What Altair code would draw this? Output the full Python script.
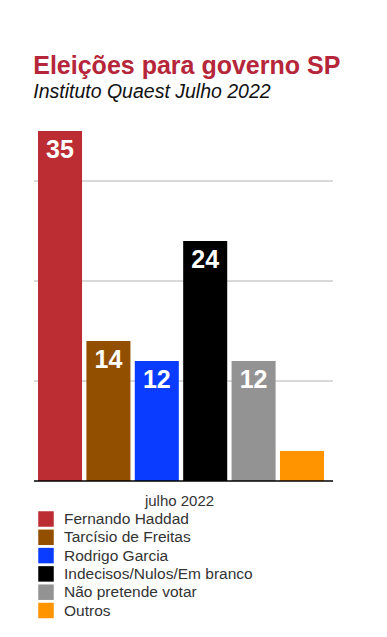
import altair as alt
import pandas as pd

candidatos = ["Fernando Haddad", "Tarcísio de Freitas", "Rodrigo Garcia",
              "Indecisos/Nulos/Em branco", "Não pretende votar", "Outros"]
valores = [35, 14, 12, 24, 12, 3]
rotulos = ["35", "14", "12", "24", "12", ""]
cores = ["#bb2c33", "#934f00", "#0a3cff", "#000000", "#939393", "#ff9400"]
grade = [10, 20, 30]

df = pd.DataFrame({"candidato": candidatos, "valor": valores, "rotulo": rotulos})

FONT = "Liberation Sans"

xscale = alt.Scale(range=[4, 290], paddingInner=0.09, paddingOuter=0)
yscale = alt.Scale(domain=[0, 35], nice=False)

grid = alt.Chart(pd.DataFrame({"g": grade})).mark_rule(
    color="#b3b3b3", strokeWidth=1
).encode(y=alt.Y("g:Q", scale=yscale, axis=None))

bars = alt.Chart(df).mark_bar().encode(
    x=alt.X("candidato:N", sort=candidatos, scale=xscale,
            axis=alt.Axis(title="julho 2022", labels=False, ticks=False, domain=False,
                          grid=False, titleX=145, titlePadding=12,
                          titleFont=FONT, titleFontSize=15, titleFontWeight="normal",
                          titleColor="#333")),
    y=alt.Y("valor:Q", scale=yscale, axis=None),
    color=alt.Color("candidato:N", sort=candidatos,
                    scale=alt.Scale(domain=candidatos, range=cores),
                    legend=alt.Legend(title=None, orient="none", legendX=4, legendY=380,
                                      direction="vertical", symbolType="square",
                                      symbolSize=240, symbolStrokeWidth=0,
                                      symbolOpacity=1, labelFont=FONT,
                                      labelFontSize=15.5, labelColor="#333",
                                      labelOffset=10, labelLimit=0, rowPadding=1.3,
                                      padding=0)),
)

labels = alt.Chart(df).transform_filter("datum.rotulo != ''").mark_text(
    color="white", font=FONT, fontWeight="bold", fontSize=25,
    baseline="alphabetic", align="center", dy=27
).encode(
    x=alt.X("candidato:N", sort=candidatos, scale=xscale),
    y=alt.Y("valor:Q", scale=yscale),
    text="rotulo:N",
)

base_line = alt.Chart(pd.DataFrame({"zero": [0]})).mark_rule(
    color="black", strokeWidth=1.5
).encode(y=alt.Y("zero:Q", scale=yscale))

chart = alt.layer(grid, bars, labels, base_line).properties(
    width=299, height=350,
    title=alt.TitleParams(
        text="Eleições para governo SP",
        subtitle="Instituto Quaest Julho 2022",
        anchor="start", font=FONT, fontSize=25, fontWeight="bold", color="#b5263a",
        subtitleFont=FONT, subtitleFontSize=19.5, subtitleFontStyle="italic",
        subtitleColor="#111", subtitlePadding=4.5, offset=29.5),
    autosize=alt.AutoSizeParams(type="none"),
    padding={"left": 26, "top": 123, "right": 40, "bottom": 150},
).configure_view(strokeWidth=0)

chart.save("out.html", embed_options={"renderer": "svg", "actions": False})
